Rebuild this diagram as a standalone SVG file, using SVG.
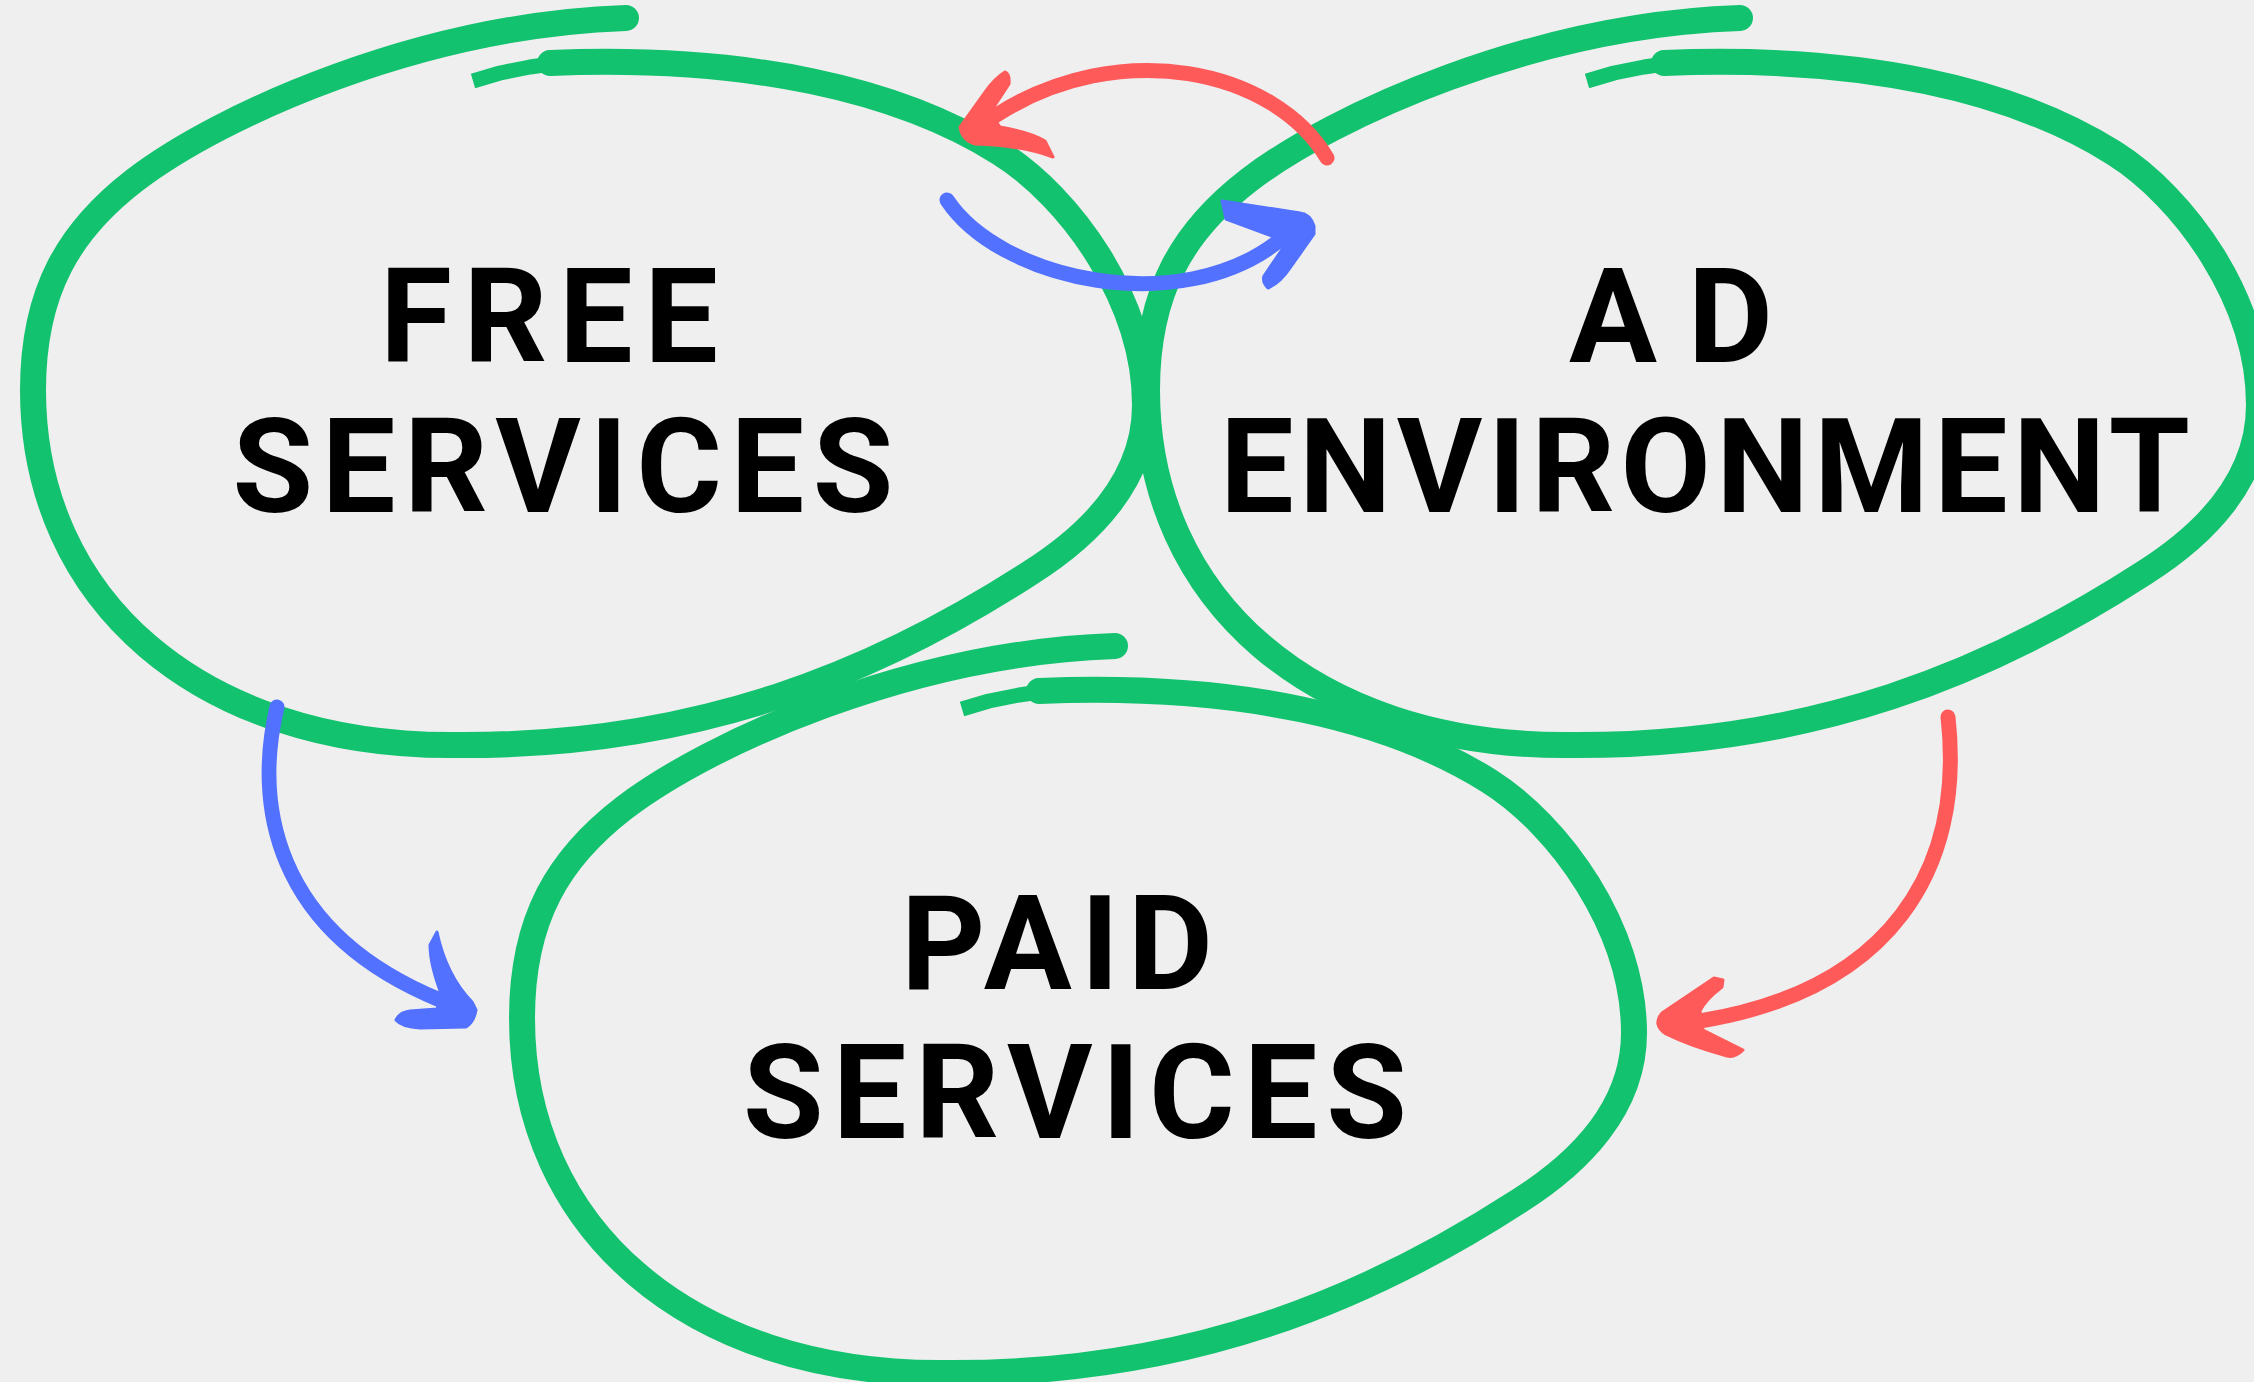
<svg xmlns="http://www.w3.org/2000/svg" xmlns:xlink="http://www.w3.org/1999/xlink" width="2254" height="1382" viewBox="0 0 2254 1382">
<style>
.loop{fill:none;stroke:#13C26F;stroke-width:26;stroke-linecap:round;stroke-linejoin:round}
.tail{fill:none;stroke:#13C26F;stroke-width:15;stroke-linecap:butt;stroke-linejoin:round}
.lbl{font-family:Roboto,"Liberation Sans",Arial,sans-serif;font-weight:700;font-size:131px;fill:#000;text-anchor:middle}
.red{fill:none;stroke:#FF5A5A;stroke-width:15;stroke-linecap:round}
.blue{fill:none;stroke:#5271FF;stroke-width:15;stroke-linecap:round}
.redhead{fill:#FF5A5A;stroke:#FF5A5A;stroke-width:3;stroke-linejoin:round}
.bluehead{fill:#5271FF;stroke:#5271FF;stroke-width:3;stroke-linejoin:round}
</style>
<defs>
<g id="loop">
<path class="tail" d="M 473 81 L 500 73 L 530 67 L 565 62"/>
<path class="loop" d="M 550 63 C 750 55 900 90 1000 153 C 1070 197 1145 300 1145 405 C 1145 480 1090 535 1030 573 C 880 670 700 748 450 745 C 200 745 33 600 33 390 C 33 290 70 230 135 180 C 220 115 420 25 626 18"/>
</g>
</defs>
<rect width="2254" height="1382" fill="#EFEFEF"/>
<g id="free-services">
<use xlink:href="#loop" href="#loop"/>
<text class="lbl" x="549" y="362" textLength="338" lengthAdjust="spacing">FREE</text>
<text class="lbl" x="563" y="512" textLength="661" lengthAdjust="spacing">SERVICES</text>
</g>
<g id="ad-environment">
<use xlink:href="#loop" href="#loop" transform="translate(1114,0)"/>
<text class="lbl" x="1671" y="362" textLength="204" lengthAdjust="spacing">AD</text>
<text class="lbl" x="1705" y="512" textLength="970" lengthAdjust="spacing">ENVIRONMENT</text>
</g>
<g id="paid-services">
<use xlink:href="#loop" href="#loop" transform="translate(489,628)"/>
<text class="lbl" x="1057" y="989" textLength="312" lengthAdjust="spacing">PAID</text>
<text class="lbl" x="1075" y="1138" textLength="664" lengthAdjust="spacing">SERVICES</text>
</g>
<g id="connectors">
<path class="red" d="M 1327 158 C 1275 70, 1120 35, 995 116"/>
<path class="redhead" d="M 1005 72 Q 1010 74 1009 84 L 990 113 L 1000 127 Q 1030 132 1045 141 L 1053 157 Q 1020 145 975 144 Q 962 140 960 127 L 985 92 Q 995 78 1005 72 Z"/>
<path class="blue" d="M 947 200 C 1000 280, 1180 320, 1280 240"/>
<path class="bluehead" d="M 1222 201 L 1300 213 Q 1310 214 1314 226 L 1314 234 L 1290 268 Q 1280 283 1268 288 Q 1262 282 1264 276 L 1283 248 Q 1280 240 1272 236 L 1226 219 Z"/>
<path class="blue" d="M 277 707 C 255 800, 270 930, 440 1000"/>
<path class="bluehead" d="M 437 932 Q 446 975 472 1002 L 476 1010 Q 474 1022 466 1027 L 420 1028 Q 402 1027 396 1020 Q 400 1012 410 1011 L 437 1009 L 442 996 Q 430 965 430 945 Z"/>
<path class="red" d="M 1948 717 C 1965 870, 1890 990, 1700 1021"/>
<path class="redhead" d="M 1714 978 L 1723 980 L 1722 987 Q 1705 1000 1700 1011 L 1703 1030 L 1743 1050 Q 1735 1058 1727 1056 Q 1690 1046 1666 1034 Q 1652 1025 1662 1013 Z"/>
</g>
</svg>
